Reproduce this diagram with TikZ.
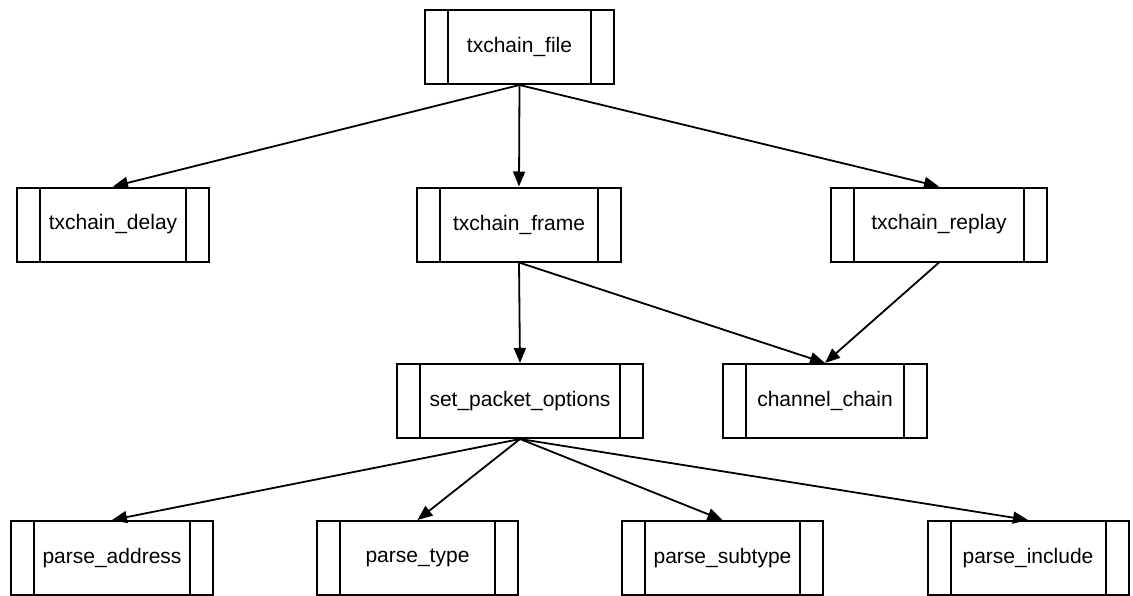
\documentclass[tikz,border=0pt]{standalone}
\usepackage{fontspec}
\setmainfont{Liberation Sans}
\usetikzlibrary{arrows.meta}
\begin{document}
\begin{tikzpicture}[x=1pt,y=-1pt,
  proc/.style={draw, line width=2pt, minimum height=74pt, inner sep=0pt,
    font=\fontsize{21}{25}\selectfont,
    path picture={
      \draw[line width=2pt] ([xshift=23pt]path picture bounding box.north west) -- ([xshift=23pt]path picture bounding box.south west);
      \draw[line width=2pt] ([xshift=-23pt]path picture bounding box.north east) -- ([xshift=-23pt]path picture bounding box.south east);
    }},
  arr/.style={line width=1.8pt, -{Triangle[length=15pt,width=12pt]}}]
\useasboundingbox (0,0) rectangle (1133,595);
\node[proc, minimum width=189pt] (file) at (519.5,47) {txchain\_file};
\node[proc, minimum width=192pt] (delay) at (113,224.5) {txchain\_delay};
\node[proc, minimum width=204pt] (frame) at (519,224.5) {txchain\_frame};
\node[proc, minimum width=216pt] (replay) at (939,224.5) {txchain\_replay};
\node[proc, minimum width=246pt] (spo) at (520,401) {set\_packet\_options};
\node[proc, minimum width=204pt] (chan) at (825,401) {channel\_chain};
\node[proc, minimum width=202pt] (paddr) at (112,558) {parse\_address};
\node[proc, minimum width=201pt] (ptype) at (417.5,558) {parse\_type};
\node[proc, minimum width=201pt] (psub) at (722.5,558) {parse\_subtype};
\node[proc, minimum width=201pt] (pinc) at (1028,558) {parse\_include};
\draw[arr] (file.south) -- (delay.north);
\draw[arr] (file.south) -- (frame.north);
\draw[arr] (file.south) -- (replay.north);
\draw[arr] (frame.south) -- (spo.north);
\draw[arr] (frame.south) -- (chan.north);
\draw[arr] (replay.south) -- (chan.north);
\draw[arr] (spo.south) -- (paddr.north);
\draw[arr] (spo.south) -- (ptype.north);
\draw[arr] (spo.south) -- (psub.north);
\draw[arr] (spo.south) -- (pinc.north);
\end{tikzpicture}
\end{document}
